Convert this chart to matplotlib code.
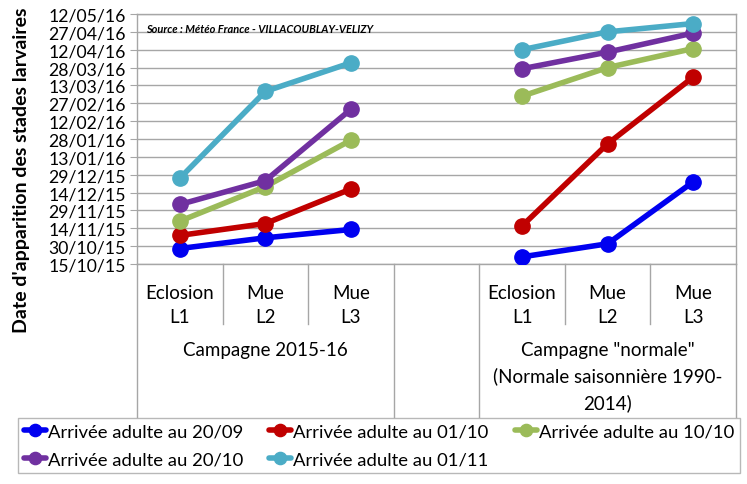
import matplotlib
matplotlib.use("Agg")
import matplotlib.pyplot as plt
import matplotlib.dates as mdates
import matplotlib.transforms as mtransforms
from datetime import datetime

plt.rcParams['font.family'] = ['Lato', 'DejaVu Sans']

# stades (7 positions, la 4e est vide)
stades = ["Eclosion\nL1", "Mue\nL2", "Mue\nL3", "", "Eclosion\nL1", "Mue\nL2", "Mue\nL3"]
campagnes = ["Campagne 2015-16", "Campagne \"normale\"\n(Normale saisonnière 1990-\n2014)"]

series = ["Arrivée adulte au 20/09", "Arrivée adulte au 01/10", "Arrivée adulte au 10/10",
          "Arrivée adulte au 20/10", "Arrivée adulte au 01/11"]
colors = ["#0000f0", "#c00000", "#9bbb59", "#7030a0", "#4bacc6"]

# dates : 2015-16 puis normale
c2015 = [
    ["28/10/15", "06/11/15", "13/11/15"],
    ["08/11/15", "18/11/15", "17/12/15"],
    ["20/11/15", "19/12/15", "27/01/16"],
    ["04/12/15", "24/12/15", "22/02/16"],
    ["26/12/15", "08/03/16", "01/04/16"],
]
cnorm = [
    ["21/10/15", "01/11/15", "23/12/15"],
    ["16/11/15", "24/01/16", "20/03/16"],
    ["04/03/16", "28/03/16", "13/04/16"],
    ["27/03/16", "10/04/16", "26/04/16"],
    ["12/04/16", "27/04/16", "04/05/16"],
]
yticks = ["15/10/15", "30/10/15", "14/11/15", "29/11/15", "14/12/15", "29/12/15", "13/01/16",
          "28/01/16", "12/02/16", "27/02/16", "13/03/16", "28/03/16", "12/04/16", "27/04/16",
          "12/05/16"]


def d(s):
    return mdates.date2num(datetime.strptime(s, "%d/%m/%y"))


fig = plt.figure(figsize=(7.47, 4.85), dpi=100)
ax = fig.add_axes([137 / 747, 1 - 265 / 485, 599 / 747, 250 / 485])

grey = "#a6a6a6"
handles = []
for i in range(5):
    h, = ax.plot([0, 1, 2], [d(s) for s in c2015[i]], color=colors[i], lw=4,
                 marker="o", ms=11, solid_capstyle="round", zorder=3)
    ax.plot([4, 5, 6], [d(s) for s in cnorm[i]], color=colors[i], lw=4,
            marker="o", ms=11, solid_capstyle="round", zorder=3)
    handles.append(h)

ax.set_xlim(-0.5, 6.5)
ax.set_ylim(d(yticks[0]), d(yticks[-1]))
ax.set_yticks([d(s) for s in yticks])
ax.set_yticklabels(yticks, fontsize=12.7)
ax.set_xticks([])
ax.yaxis.grid(True, color=grey, lw=1)
ax.set_axisbelow(True)
ax.tick_params(axis="y", length=5, color=grey, pad=3)
for sp in ax.spines.values():
    sp.set_color(grey)
    sp.set_linewidth(1)

ax.text(0.015, 0.965, "Source : Météo France - VILLACOUBLAY-VELIZY", transform=ax.transAxes,
        fontsize=7.9, fontweight="bold", style="italic", va="top", ha="left")

# zone des categories sous l'axe
tr = mtransforms.blended_transform_factory(ax.transData, ax.transAxes)
for i, lab in enumerate(stades):
    if lab:
        ax.text(i, -0.162, lab, transform=tr, ha="center", va="center", fontsize=13.5,
                linespacing=1.55)
ax.text(1, -0.31, campagnes[0], transform=tr, ha="center", va="top", fontsize=13.5)
ax.text(5, -0.31, campagnes[1], transform=tr, ha="center", va="top", fontsize=13.5,
        linespacing=1.55)
for xb in [-0.5, 2.5, 3.5, 6.5]:
    ax.plot([xb, xb], [0, -0.612], transform=tr, color=grey, lw=1, clip_on=False)
for xb in [0.5, 1.5, 4.5, 5.5]:
    ax.plot([xb, xb], [0, -0.24], transform=tr, color=grey, lw=1, clip_on=False)

fig.text(22 / 747, 1 - 170 / 485, "Date d'apparition des stades larvaires", rotation=90,
         ha="center", va="center", fontsize=14, fontweight="bold")

order = [0, 3, 1, 4, 2]
leg = fig.legend([handles[k] for k in order], [series[k] for k in order], ncol=3,
                 loc="center", bbox_to_anchor=(18 / 747, 10 / 485, 722 / 747, 57 / 485),
                 mode="expand", fontsize=13.3, frameon=True, fancybox=False,
                 handlelength=1.2, handletextpad=0.1, columnspacing=0.5, borderaxespad=0,
                 labelspacing=0.65, markerscale=0.8, borderpad=0.3)
leg.get_frame().set_edgecolor(grey)
leg.get_frame().set_linewidth(1)

fig.savefig("out.png", dpi=100)
